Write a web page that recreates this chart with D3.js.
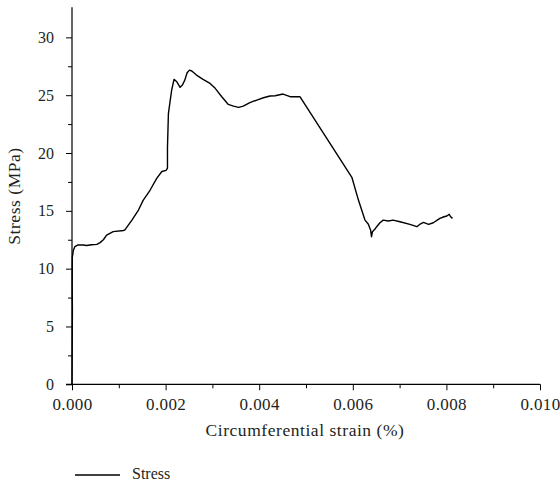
<!DOCTYPE html>
<html>
<head>
<meta charset="utf-8">
<script src="https://cdn.jsdelivr.net/npm/d3@7"></script>
<style>
  html, body { margin: 0; padding: 0; background: #fff; }
  svg { display: block; }
  text { font-family: "Liberation Serif", "DejaVu Serif", serif; fill: #231f20; }
</style>
</head>
<body>
<svg id="chart" width="560" height="483"></svg>
<script>
// ---- data ----
const strain = [0, 0.000004, 0.000008, 0.000004, 0.000007, 0.00003, 0.00006, 0.00013, 0.00024, 0.00031, 0.00042,
  0.00053, 0.0006, 0.00067, 0.00074, 0.00081, 0.00088, 0.0011, 0.00113, 0.00128, 0.00142, 0.00152,
  0.00167, 0.00181, 0.00192, 0.00201, 0.00204, 0.00204, 0.00206, 0.00210, 0.00213, 0.00218, 0.00224,
  0.00231, 0.00236, 0.00241, 0.00246, 0.00251, 0.00256, 0.00266, 0.0028, 0.00295, 0.00306, 0.0032,
  0.00334, 0.00345, 0.00356, 0.00366, 0.0038, 0.00395, 0.00409, 0.00423, 0.00434, 0.00451, 0.00466,
  0.0048, 0.00487, 0.00598, 0.00612, 0.00626, 0.00633, 0.00638, 0.0064, 0.00642, 0.00647, 0.00651,
  0.00658, 0.00665, 0.00676, 0.00686, 0.00701, 0.00722, 0.00737, 0.00744, 0.00751, 0.00762, 0.00772,
  0.00786, 0.00795, 0.00801, 0.00806, 0.00809, 0.00813];
const stress = [0, 3.0, 6.5, 8.5, 11.0, 11.6, 11.9, 12.05, 12.05, 12.0, 12.07,
  12.1, 12.25, 12.5, 12.9, 13.05, 13.2, 13.3, 13.35, 14.2, 15.07, 15.9,
  16.8, 17.8, 18.4, 18.5, 18.7, 20.5, 23.4, 24.6, 25.45, 26.37, 26.16,
  25.68, 25.88, 26.3, 26.94, 27.17, 27.09, 26.74, 26.37, 26.02, 25.59, 24.87,
  24.2, 24.06, 23.95, 24.06, 24.35, 24.58, 24.78, 24.93, 24.95, 25.1, 24.87,
  24.87, 24.87, 17.9, 15.93, 14.2, 13.86, 13.34, 12.76, 13.2, 13.4, 13.63,
  13.97, 14.2, 14.12, 14.2, 14.06, 13.83, 13.63, 13.86, 14.0, 13.83, 13.97,
  14.35, 14.49, 14.55, 14.7, 14.49, 14.35];
const xTicks = [0, 0.002, 0.004, 0.006, 0.008, 0.010];
const xMinorTicks = [0.001, 0.003, 0.005, 0.007, 0.009];
const yTicks = [0, 5, 10, 15, 20, 25, 30];
const yMinorTicks = [2.5, 7.5, 12.5, 17.5, 22.5, 27.5];
const xTitle = "Circumferential strain (%)";
const yTitle = "Stress (MPa)";
const seriesName = "Stress";

// ---- drawing ----
const svg = d3.select("#chart");
const x = d3.scaleLinear().domain([0, 0.010]).range([72, 540]);
const y = d3.scaleLinear().domain([0, 32.6]).range([384.3, 7.3]);
const data = strain.map((s, i) => ({ s: s, v: stress[i] }));
const SERIF = '"Liberation Serif", "DejaVu Serif", serif';
const INK = "#231f20";

function styleAxis(size, spacing) {
  return function (g) {
    g.attr("font-family", SERIF).attr("font-size", size);
    g.selectAll("path").remove();
    g.selectAll("line").attr("stroke", "#000").attr("stroke-width", 1);
    g.selectAll("text").attr("fill", INK).attr("font-family", SERIF)
      .attr("font-size", size).attr("letter-spacing", spacing);
  };
}

// minor ticks
svg.append("g").attr("transform", `translate(0,${y(0)})`)
  .call(d3.axisBottom(x).tickValues(xMinorTicks).tickSize(4).tickFormat(""))
  .call(styleAxis(16, 0));
svg.append("g").attr("transform", `translate(${x(0)},0)`)
  .call(d3.axisLeft(y).tickValues(yMinorTicks).tickSize(4).tickFormat(""))
  .call(styleAxis(16, 0));

// major ticks
svg.append("g").attr("transform", `translate(0,${y(0)})`)
  .call(d3.axisBottom(x).tickValues(xTicks).tickSize(6).tickPadding(8).tickFormat(d3.format(".3f")))
  .call(styleAxis(17, 0.4));
svg.append("g").attr("transform", `translate(${x(0)},0)`)
  .call(d3.axisLeft(y).tickValues(yTicks).tickSize(6).tickPadding(12).tickFormat(d3.format("d")))
  .call(styleAxis(16, 0));

// axis lines
svg.append("line").attr("x1", x(0) - 6).attr("x2", x(0.010)).attr("y1", y(0)).attr("y2", y(0))
  .attr("stroke", "#000").attr("stroke-width", 1.2);
svg.append("line").attr("x1", x(0)).attr("x2", x(0)).attr("y1", y(0)).attr("y2", y(32.6))
  .attr("stroke", "#000").attr("stroke-width", 1.2);

// curve
svg.append("path").datum(data)
  .attr("fill", "none").attr("stroke", "#000").attr("stroke-width", 1.4).attr("stroke-linejoin", "round")
  .attr("d", d3.line().x(d => x(d.s)).y(d => y(d.v)));

// titles
svg.append("text").attr("x", 305).attr("y", 436).attr("text-anchor", "middle").attr("fill", INK)
  .attr("font-family", SERIF).attr("font-size", 17.5).attr("letter-spacing", 0.55).text(xTitle);
svg.append("text").attr("transform", `translate(20,196) rotate(-90)`).attr("text-anchor", "middle").attr("fill", INK)
  .attr("font-family", SERIF).attr("font-size", 17.5).attr("letter-spacing", 0.55).text(yTitle);

// legend
svg.append("line").attr("x1", 75).attr("x2", 120).attr("y1", 475).attr("y2", 475)
  .attr("stroke", "#000").attr("stroke-width", 1.4);
svg.append("text").attr("x", 132).attr("y", 479).attr("fill", INK)
  .attr("font-family", SERIF).attr("font-size", 16).text(seriesName);
</script>
</body>
</html>
